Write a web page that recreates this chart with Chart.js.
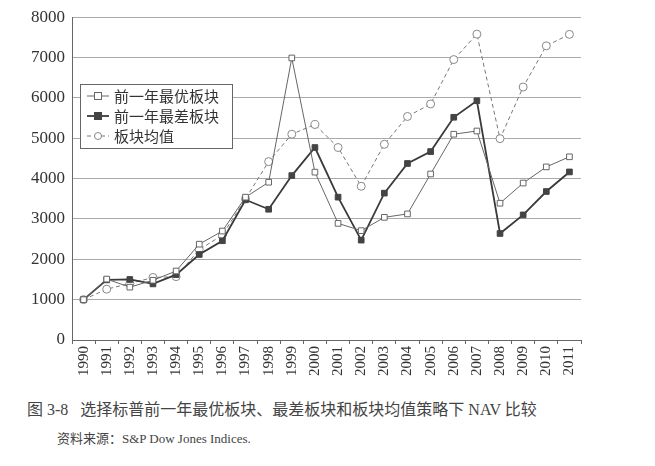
<!DOCTYPE html>
<html>
<head>
<meta charset="utf-8">
<script src="https://cdn.jsdelivr.net/npm/chart.js@4/dist/chart.umd.min.js"></script>
<style>
body { margin:0; background:#fff; width:655px; height:466px; overflow:hidden; position:relative; }
#wrap { position:absolute; left:0; top:0; width:600px; height:378px; }
.cap { position:absolute; font-family:"Liberation Serif","Noto Sans CJK SC",serif; color:#444; white-space:nowrap; }
#title { left:27px; top:396px; font-size:16px; }
#src { left:57px; top:428px; font-size:13px; }
</style>
</head>
<body>
<div id="wrap"><canvas id="nav"></canvas></div>
<div class="cap" id="title">图 3-8&nbsp;&nbsp;&nbsp;选择标普前一年最优板块、最差板块和板块均值策略下 NAV 比较</div>
<div class="cap" id="src">资料来源：S&amp;P Dow Jones Indices.</div>
<script>
var years = ["1990","1991","1992","1993","1994","1995","1996","1997","1998","1999","2000",
  "2001","2002","2003","2004","2005","2006","2007","2008","2009","2010","2011"];
var bestSector = [1000,1510,1310,1480,1710,2375,2700,3540,3910,6990,4160,
  2890,2710,3040,3125,4115,5100,5180,3390,3890,4290,4540];
var worstSector = [1000,1490,1500,1390,1620,2120,2460,3475,3240,4075,4770,
  3540,2475,3640,4375,4670,5520,5930,2640,3100,3680,4165];
var sectorAvg = [1000,1260,1400,1550,1570,2240,2600,3500,4420,5100,5340,
  4770,3810,4850,5540,5850,6950,7580,4990,6270,7290,7575];
var yTicks = [0,1000,2000,3000,4000,5000,6000,7000,8000];

var legendBox = {
  id: "legendBox",
  afterDraw: function (chart) {
    var ctx = chart.ctx;
    ctx.save();
    ctx.fillStyle = "#fff";
    ctx.strokeStyle = "#666";
    ctx.lineWidth = 1;
    ctx.fillRect(80.5, 84.5, 152, 64);
    ctx.strokeRect(80.5, 84.5, 152, 64);
    chart.data.datasets.forEach(function (ds, i) {
      var y = 96 + i * 20;
      ctx.strokeStyle = ds.borderColor;
      ctx.lineWidth = ds.borderWidth;
      ctx.setLineDash(ds.borderDash || []);
      ctx.beginPath();
      ctx.moveTo(87, y);
      ctx.lineTo(109, y);
      ctx.stroke();
      ctx.setLineDash([]);
      ctx.fillStyle = ds.pointBackgroundColor;
      ctx.strokeStyle = ds.pointBorderColor;
      ctx.lineWidth = 1;
      if (ds.pointStyle === "circle") {
        ctx.beginPath();
        ctx.arc(98, y, 3.5, 0, Math.PI * 2);
        ctx.fill();
        ctx.stroke();
      } else {
        ctx.fillRect(94.5, y - 3.5, 7, 7);
        ctx.strokeRect(94.5, y - 3.5, 7, 7);
      }
      ctx.fillStyle = "#333";
      ctx.font = "15px 'Noto Sans CJK SC'";
      ctx.textBaseline = "middle";
      ctx.fillText(ds.label, 114, y);
    });
    ctx.restore();
  }
};

new Chart(document.getElementById("nav"), {
  type: "line",
  data: {
    labels: years,
    datasets: [{
      label: "前一年最优板块",
      data: bestSector,
      borderColor: "#666",
      borderWidth: 1,
      pointStyle: "rect",
      pointRadius: 4,
      pointBackgroundColor: "#fff",
      pointBorderColor: "#666",
      pointBorderWidth: 1
    }, {
      label: "前一年最差板块",
      data: worstSector,
      borderColor: "#3a3a3a",
      borderWidth: 1.8,
      pointStyle: "rect",
      pointRadius: 4,
      pointBackgroundColor: "#444",
      pointBorderColor: "#444",
      pointBorderWidth: 1
    }, {
      label: "板块均值",
      data: sectorAvg,
      borderColor: "#777",
      borderWidth: 1,
      borderDash: [4, 3],
      pointStyle: "circle",
      pointRadius: 4,
      pointBackgroundColor: "#fff",
      pointBorderColor: "#888",
      pointBorderWidth: 1
    }]
  },
  options: {
    responsive: true,
    maintainAspectRatio: false,
    animation: false,
    layout: { padding: { left: 24, right: 19, top: 14, bottom: 0 } },
    plugins: { legend: { display: false }, tooltip: { enabled: false } },
    scales: {
      x: {
        offset: true,
        grid: { offset: true, drawOnChartArea: false, drawTicks: true, tickLength: 4, color: "#666" },
        border: { color: "#666" },
        ticks: {
          minRotation: 90, maxRotation: 90, autoSkip: false,
          color: "#333", padding: 2,
          font: { family: "Liberation Serif", size: 15 }
        }
      },
      y: {
        min: 0, max: 8000,
        afterBuildTicks: function (axis) {
          axis.ticks = yTicks.map(function (v) { return { value: v }; });
        },
        grid: { color: "#aaa", drawTicks: false },
        border: { color: "#666" },
        ticks: {
          color: "#333", padding: 7,
          callback: function (v) { return String(v); },
          font: { family: "Liberation Serif", size: 17 }
        }
      }
    }
  },
  plugins: [legendBox]
});
</script>
</body>
</html>
